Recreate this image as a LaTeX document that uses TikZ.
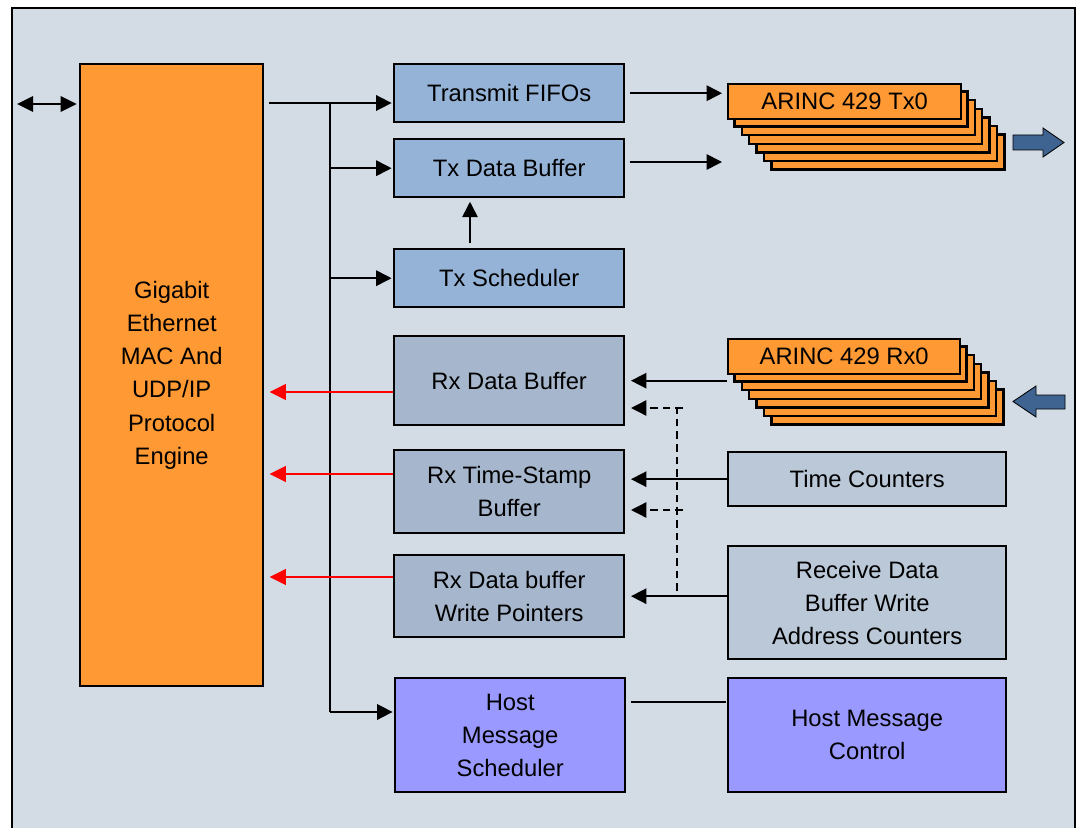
\documentclass[tikz,border=0pt]{standalone}
\usepackage{fontspec}
\setmainfont{Liberation Sans}
\usetikzlibrary{arrows.meta}
\newdimen\pxu \pxu=0.025cm

\definecolor{panel}{HTML}{D3DCE5}
\definecolor{engine}{HTML}{FF9933}
\definecolor{txblue}{HTML}{95B3D7}
\definecolor{rxgray}{HTML}{A6B6CC}
\definecolor{cntgray}{HTML}{BAC8D8}
\definecolor{hostviolet}{HTML}{9999FF}
\definecolor{bigarrow}{HTML}{3F6492}
\definecolor{rxred}{HTML}{FF0000}

\begin{document}
\begin{tikzpicture}[x=0.025cm, y=-0.025cm,
  every node/.style={font=\fontsize{16.9pt}{23.6pt}\selectfont},
  blk/.style={draw=black, line width=1.7pt, rectangle, inner sep=0pt,
    align=center, anchor=north west},
  txbox/.style={blk, fill=txblue, minimum width=230*\pxu, minimum height=58*\pxu},
  rxbox/.style={blk, fill=rxgray, minimum width=230*\pxu},
  cntbox/.style={blk, fill=cntgray, minimum width=278*\pxu},
  hostbox/.style={blk, fill=hostviolet, minimum height=114*\pxu},
  card/.style={draw=black, line width=1.7pt, fill=engine},
  link/.style={line width=1.2pt, draw=black},
  arr/.style={link, -{Triangle[length=11pt,width=11pt]}},
  redarr/.style={line width=1.7pt, draw=rxred, -{Triangle[length=11.5pt,width=11pt]}},
  dasharr/.style={line width=1pt, dash pattern=on 5.5pt off 3.5pt, draw=black},
  blockarrow/.style={draw=black, line width=0.6pt, fill=bigarrow}
]
\useasboundingbox (0,0) rectangle (1081,828);
\clip (0,0) rectangle (1081,828);
\fill[white] (0,0) rectangle (1081,828);

% outer panel
\draw[line width=2pt, fill=panel] (12,8) rectangle (1075,860);

% protocol engine
\node[blk, fill=engine, minimum width=183*\pxu, minimum height=622*\pxu]
  (geth) at (79,63) {Gigabit\\Ethernet\\MAC And\\UDP/IP\\Protocol\\Engine};

% transmit side
\node[txbox] (tfifo) at (393,63)  {Transmit FIFOs};
\node[txbox] (txbuf) at (393,138) {Tx Data Buffer};
\node[txbox] (txsch) at (393,248) {Tx Scheduler};

% receive side
\node[rxbox, minimum height=89*\pxu] (rxbuf) at (393,335) {Rx Data Buffer};
\node[rxbox, minimum height=83*\pxu] (rxts)  at (393,449) {Rx Time-Stamp\\Buffer};
\node[rxbox, minimum height=82*\pxu] (rxwp)  at (393,554) {Rx Data buffer\\Write Pointers};

\node[cntbox, minimum height=54*\pxu]  (timec) at (727,451) {Time Counters};
\node[cntbox, minimum height=113*\pxu] (rdbw)  at (727,545) {Receive Data\\Buffer Write\\Address Counters};

% host message blocks
\node[hostbox, minimum width=230*\pxu] (hms) at (394,677) {Host\\Message\\Scheduler};
\node[hostbox, minimum width=278*\pxu] (hmc) at (727,677) {Host Message\\Control};

% ARINC 429 channel stacks
\foreach \k in {6,5,...,1} {
  \draw[card] ({727+\k*7.4},{83+\k*8.6}) rectangle +(233,35);
  \draw[card] ({727+\k*7.4},{338+\k*8.6}) rectangle +(232,35);
}
\node[blk, fill=engine, minimum width=233*\pxu, minimum height=35*\pxu]
  (arinctx) at (727,83) {ARINC 429 Tx0};
\node[blk, fill=engine, minimum width=232*\pxu, minimum height=35*\pxu]
  (arincrx) at (727,338) {ARINC 429 Rx0};

% block arrows: serial out / serial in
\draw[blockarrow] (1013,135) -- (1043,135) -- (1043,128) -- (1064,142.5)
  -- (1043,157) -- (1043,150) -- (1013,150) -- cycle;
\draw[blockarrow] (1065,395) -- (1036,395) -- (1036,386) -- (1013,401.5)
  -- (1036,417) -- (1036,409) -- (1065,409) -- cycle;

% helper coordinates
\coordinate (ext)    at (17,104);
\coordinate (busTop) at (330,103);
\coordinate (busBot) at (330,712);
\coordinate (upx)    at (470,0);
\coordinate (txout)  at (722,162);
\coordinate (r1)     at (0,392);
\coordinate (r2)     at (0,474);
\coordinate (r3)     at (0,577);
\coordinate (dTop)   at (677,408);
\coordinate (dMid)   at (677,510);
\coordinate (dBot)   at (677,591);
\coordinate (hl)     at (0,702);

% external port
\draw[link, {Triangle[length=11.5pt,width=11pt]}-{Triangle[length=11.5pt,width=11pt]},
  shorten >=1.6pt] (ext) -- (geth.west |- ext);

% distribution bus from the engine
\draw[arr, shorten <=3pt, shorten >=1pt] (geth.east |- busTop) -- (tfifo.west |- busTop);
\draw[link] (busTop) -- (busBot);
\draw[arr, shorten >=1pt] (busBot) -- (hms.west |- busBot);
\draw[arr, shorten >=1pt] (busTop |- txbuf.west) -- (txbuf.west);
\draw[arr, shorten >=1pt] (busTop |- txsch.west) -- (txsch.west);

% transmit path
\draw[arr, shorten <=3.3pt, shorten >=2.4pt] (txsch.north -| upx) -- (txbuf.south -| upx);
\draw[arr, shorten <=3pt, shorten >=3.5pt] (tfifo.east) -- (arinctx.west |- tfifo.east);
\draw[arr, shorten <=3pt] (txbuf.east |- txout) -- (txout);

% receive path
\draw[arr, shorten >=4pt] (arincrx.west |- rxbuf.east) -- (rxbuf.east);
\draw[arr, shorten >=4pt] (timec.west) -- (rxts.east |- timec.west);
\draw[arr, shorten >=4pt] (rdbw.west |- rxwp.east) -- (rxwp.east);

% write-address strobes
\draw[dasharr] (dBot) -- (dTop);
\draw[dasharr, -{Triangle[length=11pt,width=11pt]}, shorten >=4pt]
  ([xshift=4.3pt]dTop) -- (rxbuf.east |- dTop);
\draw[dasharr, -{Triangle[length=11pt,width=11pt]}, shorten >=4pt]
  ([xshift=4.3pt]dMid) -- (rxts.east |- dMid);

% received data back to the engine
\draw[redarr, shorten >=3.7pt] (rxbuf.west |- r1) -- (geth.east |- r1);
\draw[redarr, shorten >=3.7pt] (rxts.west |- r2) -- (geth.east |- r2);
\draw[redarr, shorten >=3.7pt] (rxwp.west |- r3) -- (geth.east |- r3);

% host message link
\draw[link, shorten <=3pt, shorten >=1pt] (hms.east |- hl) -- (hmc.west |- hl);
\end{tikzpicture}
\end{document}
